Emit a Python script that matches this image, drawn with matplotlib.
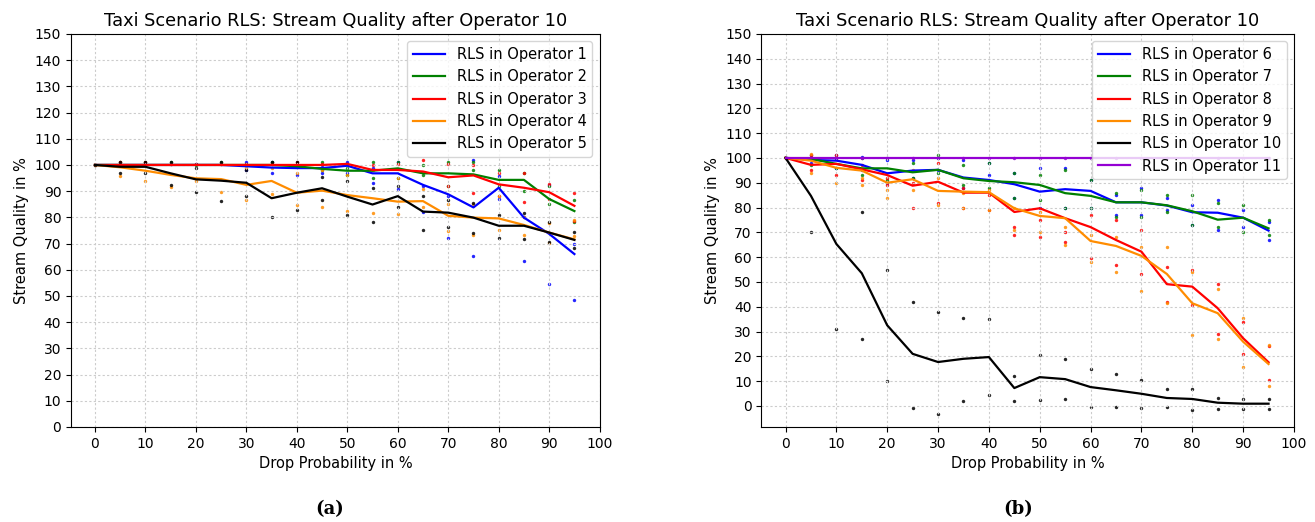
import numpy as np
import matplotlib.pyplot as plt

drop = [0, 5, 10, 15, 20, 25, 30, 35, 40, 45, 50, 55, 60, 65, 70, 75, 80, 85, 90, 95]

# (a) mean stream quality, RLS in operator 1..5
op1 = [100, 100, 100, 100, 100, 100, 99.5, 99, 98.8, 98.8, 99.7, 96.8, 96.8, 92.4, 88.8, 83.8, 91.3, 79.9, 73.7, 66.0]
op2 = [100, 100, 100, 100, 100, 100, 100, 100, 99.5, 98.5, 97.8, 97.8, 98.7, 96.8, 96.8, 96.4, 94.3, 94.3, 87, 82.4]
op3 = [100, 100, 100, 100, 100, 100, 100, 100, 100, 100, 100.4, 98.1, 98.1, 97.5, 95.3, 96, 92.6, 91.3, 89.6, 84.4]
op4 = [100, 99.1, 97.8, 96.2, 94.9, 94.6, 92.4, 93.9, 89.4, 90.2, 88.5, 87.3, 86, 86.2, 80.6, 79.9, 79.6, 77.1, 74.2, 71.6]
op5 = [100, 99.3, 99.3, 96.8, 94.5, 94, 93.2, 87.3, 89.4, 91.1, 87.9, 84.9, 88.1, 82.2, 81.8, 79.9, 76.8, 76.8, 74.2, 71.4]

# single runs (dots), one list per drop probability
op1_runs = [[100], [100.5], [100.5], [100.5], [100.5], [100.5], [101, 98], [96.8, 101], [100, 96], [100, 97],
            [101.3, 97], [99, 93], [101, 91], [92, 82], [88, 72], [102, 65.2], [95.9, 87], [80, 63.5], [92.5, 54.5], [70, 48.4]]
op2_runs = [[100], [101], [101], [101], [100], [101], [100], [101], [100], [101, 98],
            [99, 96], [101, 95], [101, 95], [100, 96], [101, 92], [101, 98], [98, 92], [97, 90], [92, 85], [86.6, 78.1]]
op3_runs = [[100], [101], [101], [100.5], [100.5], [100.5], [100.5], [100.5], [101], [100.5],
            [100.5], [100], [100.5], [102], [100.5, 91.9], [100, 89.4], [97, 88], [96.8, 85.8], [92.9, 87], [89.4, 78.8]]
op4_runs = [[100], [95.9], [93.9], [91.5], [94], [89.8], [99, 86.6], [99, 88.8], [97, 84.7], [98, 83.9],
            [96, 82.4], [98, 81.8], [95, 81.3], [91, 84], [85, 74.8], [85, 73.3], [88, 75], [80, 73.3], [78, 70.1], [79, 73]]
op5_runs = [[100], [101.3, 96.8], [101.3, 96.8], [101.3, 92.4], [98.7, 89.6], [101.3, 86.3], [98.1, 88.3], [101, 80], [101, 82.8], [95.5, 86.6],
            [94, 80.9], [91.1, 78.1], [92, 84], [88, 75.2], [86.6, 76.5], [85.4, 73.9], [80.9, 72.2], [81.8, 71.6], [78.4, 70.5], [74.6, 68.2]]

# (b) mean stream quality, RLS in operator 6..11
op6 = [100, 99.2, 98.9, 97.2, 93.8, 94.9, 95.2, 92.1, 91.1, 89.4, 86.4, 87.4, 86.7, 82.1, 82.1, 80.8, 78.1, 77.9, 75.9, 70.7]
op7 = [100, 99.6, 97.6, 95.8, 95.8, 94.2, 95.2, 91.8, 90.7, 90.2, 89.1, 85.8, 84.7, 82.1, 82.1, 80.9, 78.5, 75.1, 75.9, 71.6]
op8 = [100, 97.2, 97.6, 95.4, 93.1, 88.8, 90.4, 86, 86, 78.2, 79.7, 75.7, 72.1, 66.9, 62.2, 49.1, 48.1, 39.4, 27.3, 17.6]
op9 = [100, 98.9, 96, 94.9, 90, 91.4, 86.7, 86.4, 86.2, 79.7, 76.6, 75.7, 66.5, 64.5, 60.5, 53.2, 41.4, 37.4, 25.9, 16.9]
op10 = [100, 84.7, 65.3, 53.5, 32.5, 21, 17.7, 19, 19.7, 7.2, 11.6, 10.8, 7.6, 6.3, 4.9, 3.2, 2.8, 1.3, 0.9, 0.9]
op11 = [100, 100, 100, 100, 100, 100, 100, 100, 100, 100, 100, 100, 100, 100, 100, 100, 100, 100, 100, 100]

op6_runs = [[100], [101, 98], [101, 96], [100.5, 95], [99, 90], [99, 92], [100, 95], [99, 88], [98, 93], [94, 84],
            [96, 80], [96, 80], [91, 80], [85, 77], [88, 77], [84, 79], [81, 73], [83, 71], [79, 72], [74, 67]]
op7_runs = [[100], [100, 97], [100, 96], [100, 93], [100, 91], [98, 92], [101, 94], [97, 89], [98, 88], [94, 84],
            [93, 83], [95, 80], [91, 80], [86, 76], [87, 76], [85, 78], [85, 73], [82, 72], [81, 70], [75, 69]]
op8_runs = [[100], [101, 95], [101, 93], [97, 91], [92, 89], [80, 90], [82, 98], [80, 88], [79, 85], [72, 69],
            [75, 68], [70, 66], [59.5, 77], [57, 75], [53, 71], [56, 42], [55, 40.5], [49, 29], [34, 21], [24, 10.5]]
op9_runs = [[100], [101.5, 94], [100, 90], [92, 89], [87, 84], [87, 95], [81, 92], [80, 86], [79, 87], [71, 80],
            [70, 78], [65, 72], [58, 69], [54, 68], [46.5, 64], [41.5, 64], [54, 28.5], [47, 27], [35.5, 15.5], [24.5, 8]]
op10_runs = [[100], [70, 100], [31, 100], [78, 27], [55, 10], [42, -0.7], [38, -3.4], [35.6, 1.9], [35, 4.4], [12, 2],
             [20.7, 2.3], [19, 2.8], [15, -0.3], [13, -0.3], [10.5, -0.7], [6.7, -0.3], [6.7, -1.6], [3.2, -1.1], [2.8, -1.1], [2.8, -1.1]]
op11_runs = [[100], [100], [100], [100], [100], [100], [100], [100], [100], [100],
             [100], [100], [100], [100], [100], [100], [100], [100], [100], [100]]


def plot_op(ax, means, runs, color, label):
    xs = []
    ys = []
    for x, vals in zip(drop, runs):
        for v in vals:
            xs.append(x)
            ys.append(v)
    ax.scatter(xs, ys, s=6, color=color, alpha=0.85, linewidths=0)
    ax.plot(drop, means, '-', color=color, lw=1.6, label=label)


def style(ax):
    ax.set_title('Taxi Scenario RLS: Stream Quality after Operator 10', fontsize=12.8)
    ax.set_xlabel('Drop Probability in %', fontsize=10.5)
    ax.set_ylabel('Stream Quality in %', fontsize=10.5)
    ax.set_xticks(np.arange(0, 101, 10))
    ax.set_yticks(np.arange(0, 151, 10))
    ax.tick_params(labelsize=10)
    ax.grid(True, linestyle=(0, (2, 2)), color='#cccccc', lw=0.8)
    ax.legend(loc='upper right', fontsize=10.5, handlelength=2.2)


fig = plt.figure(figsize=(13.15, 5.22), dpi=100)
ax1 = fig.add_axes([0.054, 0.182, 0.402, 0.753])
ax2 = fig.add_axes([0.579, 0.182, 0.405, 0.753])

plot_op(ax1, op1, op1_runs, 'blue', 'RLS in Operator 1')
plot_op(ax1, op2, op2_runs, 'green', 'RLS in Operator 2')
plot_op(ax1, op3, op3_runs, 'red', 'RLS in Operator 3')
plot_op(ax1, op4, op4_runs, 'darkorange', 'RLS in Operator 4')
plot_op(ax1, op5, op5_runs, 'black', 'RLS in Operator 5')
ax1.set_ylim(0, 150)
style(ax1)

plot_op(ax2, op6, op6_runs, 'blue', 'RLS in Operator 6')
plot_op(ax2, op7, op7_runs, 'green', 'RLS in Operator 7')
plot_op(ax2, op8, op8_runs, 'red', 'RLS in Operator 8')
plot_op(ax2, op9, op9_runs, 'darkorange', 'RLS in Operator 9')
plot_op(ax2, op10, op10_runs, 'black', 'RLS in Operator 10')
plot_op(ax2, op11, op11_runs, 'darkviolet', 'RLS in Operator 11')
ax2.set_ylim(-8.5, 150)
style(ax2)

fig.text(0.251, 0.015, '(a)', fontsize=13, fontweight='bold', family='DejaVu Serif', ha='center')
fig.text(0.774, 0.015, '(b)', fontsize=13, fontweight='bold', family='DejaVu Serif', ha='center')

fig.savefig('out.png', dpi=100)
